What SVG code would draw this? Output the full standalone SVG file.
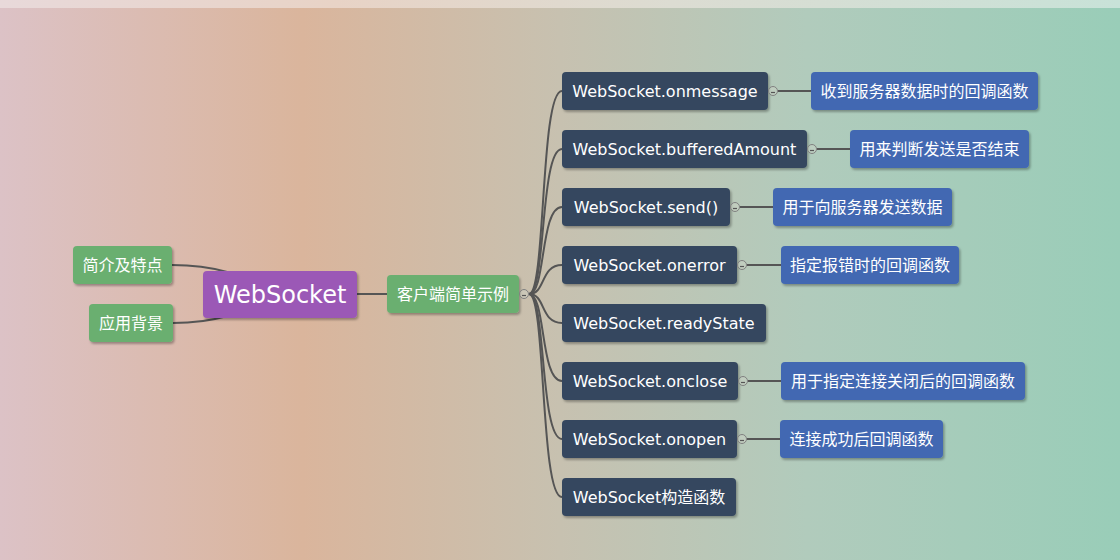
<svg xmlns="http://www.w3.org/2000/svg" width="1120" height="560" viewBox="0 0 1120 560">
<defs>
<linearGradient id="bg" x1="0" y1="0" x2="1" y2="0">
<stop offset="0" stop-color="#dcc2c6"/>
<stop offset="0.27" stop-color="#dab59c"/>
<stop offset="0.5" stop-color="#c7c1b0"/>
<stop offset="0.72" stop-color="#b1cbbc"/>
<stop offset="1" stop-color="#99cdb8"/>
</linearGradient>
<linearGradient id="top" x1="0" y1="0" x2="1" y2="0">
<stop offset="0" stop-color="#e8d9da"/>
<stop offset="0.3" stop-color="#e8d3c6"/>
<stop offset="0.6" stop-color="#dcdcd2"/>
<stop offset="1" stop-color="#c8e2d8"/>
</linearGradient>
<filter id="sh" x="-10%" y="-20%" width="130%" height="150%">
<feDropShadow dx="1.5" dy="2" stdDeviation="1" flood-color="#000" flood-opacity="0.3"/>
</filter>
</defs>
<style>
.n rect{filter:url(#sh);}
.g{fill:#6aaf70;}
.p{fill:#9b59b6;}
.d{fill:#34475e;}
.b{fill:#4268b2;}
text{font-family:"DejaVu Sans","Noto Sans CJK SC",sans-serif;font-size:16px;fill:#ffffff;text-anchor:middle;}
.big{font-size:24px;}
.c path,.c line{fill:none;stroke:#555555;stroke-width:2;}
.t circle{fill:#d0d4c8;fill-opacity:0.4;stroke:#808080;stroke-width:1;}
.t line{stroke:#555;stroke-width:1.2;}
</style>
<rect x="0" y="0" width="1120" height="560" fill="url(#bg)"/>
<rect x="0" y="0" width="1120" height="8" fill="url(#top)"/>
<g id="connectors" class="c">
<path d="M280,294 C240,274 215,265 172,265"/>
<path d="M280,294 C240,314 215,323 173,323"/>
<line x1="357" y1="294" x2="387" y2="294"/>
<path d="M529,294 C546,294 540,91 562,91"/>
<path d="M529,294 C546,294 540,149 562,149"/>
<path d="M529,294 C546,294 540,207 562,207"/>
<path d="M529,294 C546,294 540,265 562,265"/>
<path d="M529,294 C546,294 540,323 562,323"/>
<path d="M529,294 C546,294 540,381 562,381"/>
<path d="M529,294 C546,294 540,439 562,439"/>
<path d="M529,294 C546,294 540,497 562,497"/>
<line x1="778" y1="91" x2="811" y2="91"/>
<line x1="817" y1="149" x2="850" y2="149"/>
<line x1="740" y1="207" x2="773" y2="207"/>
<line x1="747" y1="265" x2="781" y2="265"/>
<line x1="748" y1="381" x2="781" y2="381"/>
<line x1="747" y1="439" x2="780" y2="439"/>
</g>
<g id="n-intro" class="n"><rect class="g" x="73" y="246" width="99" height="38" rx="4"/><text x="122.5" y="271">简介及特点</text></g>
<g id="n-bg" class="n"><rect class="g" x="89" y="304" width="84" height="38" rx="4"/><text x="131" y="329">应用背景</text></g>
<g id="n-root" class="n"><rect class="p" x="203" y="271" width="154" height="47" rx="4"/><text class="big" x="280" y="303">WebSocket</text></g>
<g id="n-client" class="n"><rect class="g" x="387" y="275" width="132" height="38" rx="4"/><text x="453" y="300">客户端简单示例</text></g>
<g id="n-onmessage" class="n"><rect class="d" x="562" y="72" width="206" height="38" rx="4"/><text x="665" y="97">WebSocket.onmessage</text></g>
<g id="n-buffered" class="n"><rect class="d" x="562" y="130" width="245" height="38" rx="4"/><text x="684.5" y="155">WebSocket.bufferedAmount</text></g>
<g id="n-send" class="n"><rect class="d" x="562" y="188" width="168" height="38" rx="4"/><text x="646" y="213">WebSocket.send()</text></g>
<g id="n-onerror" class="n"><rect class="d" x="562" y="246" width="175" height="38" rx="4"/><text x="649.5" y="271">WebSocket.onerror</text></g>
<g id="n-ready" class="n"><rect class="d" x="562" y="304" width="204" height="38" rx="4"/><text x="664" y="329">WebSocket.readyState</text></g>
<g id="n-onclose" class="n"><rect class="d" x="562" y="362" width="176" height="38" rx="4"/><text x="650" y="387">WebSocket.onclose</text></g>
<g id="n-onopen" class="n"><rect class="d" x="562" y="420" width="175" height="38" rx="4"/><text x="649.5" y="445">WebSocket.onopen</text></g>
<g id="n-ctor" class="n"><rect class="d" x="562" y="478" width="174" height="38" rx="4"/><text x="649" y="503">WebSocket构造函数</text></g>
<g id="n-d1" class="n"><rect class="b" x="811" y="72" width="227" height="38" rx="4"/><text x="924.5" y="97">收到服务器数据时的回调函数</text></g>
<g id="n-d2" class="n"><rect class="b" x="850" y="130" width="179" height="38" rx="4"/><text x="939.5" y="155">用来判断发送是否结束</text></g>
<g id="n-d3" class="n"><rect class="b" x="773" y="188" width="179" height="38" rx="4"/><text x="862.5" y="213">用于向服务器发送数据</text></g>
<g id="n-d4" class="n"><rect class="b" x="781" y="246" width="178" height="38" rx="4"/><text x="870" y="271">指定报错时的回调函数</text></g>
<g id="n-d6" class="n"><rect class="b" x="781" y="362" width="244" height="38" rx="4"/><text x="903" y="387">用于指定连接关闭后的回调函数</text></g>
<g id="n-d7" class="n"><rect class="b" x="780" y="420" width="163" height="38" rx="4"/><text x="861.5" y="445">连接成功后回调函数</text></g>
<g id="toggles" class="t">
<g><circle cx="524" cy="294" r="4.5"/><line x1="522" y1="295.5" x2="526" y2="295.5"/></g>
<g><circle cx="773" cy="91" r="4.5"/><line x1="771" y1="92.5" x2="775" y2="92.5"/></g>
<g><circle cx="812" cy="149" r="4.5"/><line x1="810" y1="150.5" x2="814" y2="150.5"/></g>
<g><circle cx="735" cy="207" r="4.5"/><line x1="733" y1="208.5" x2="737" y2="208.5"/></g>
<g><circle cx="742" cy="265" r="4.5"/><line x1="740" y1="266.5" x2="744" y2="266.5"/></g>
<g><circle cx="743" cy="381" r="4.5"/><line x1="741" y1="382.5" x2="745" y2="382.5"/></g>
<g><circle cx="742" cy="439" r="4.5"/><line x1="740" y1="440.5" x2="744" y2="440.5"/></g>
</g>
</svg>
